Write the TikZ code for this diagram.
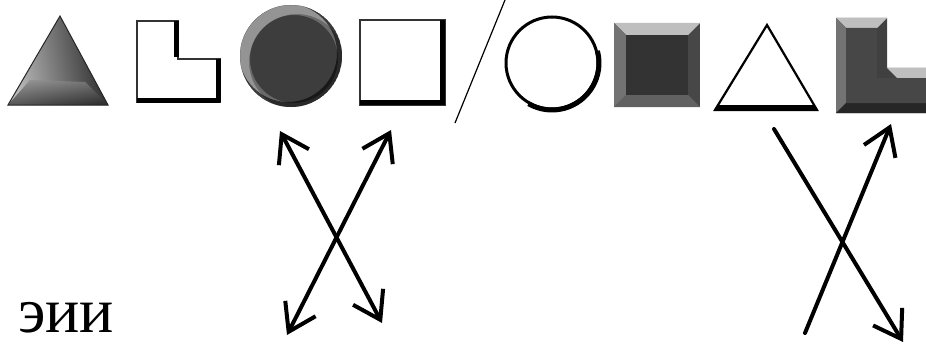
\documentclass[tikz,border=0pt]{standalone}
\usepackage{fontspec}
\setmainfont{Liberation Serif}
\usetikzlibrary{arrows.meta}
\tikzset{
  arr/.style={line width=4pt, line cap=round, line join=round},
  tipa/.style={-{Straight Barb[length=26pt,width=34pt,line width=4pt]}},
  tipb/.style={{Straight Barb[length=26pt,width=34pt,line width=4pt]}-{Straight Barb[length=26pt,width=34pt,line width=4pt]}},
  thinedge/.style={line width=1.2pt, black!80},
  thickedge/.style={line width=5pt, black, line cap=butt},
}
\begin{document}
\begin{tikzpicture}[x=1pt,y=-1pt]
\useasboundingbox (0,0) rectangle (926,345);
\fill[white] (0,0) rectangle (926,345);

% triangle 1 (shaded)
\shade[left color=gray!50, right color=black!85, shading angle=100]
  (60,16) -- (108,105) -- (8,105) -- cycle;
\shade[top color=black!45, bottom color=black!85, opacity=0.7]
  (8,105) -- (30,80) -- (85,82) -- (108,105) -- cycle;
\draw[line width=1pt, black!85] (60,16) -- (108,105) -- (8,105) -- cycle;

% L shape 1
\draw[thinedge, fill=white] (137,21) -- (178,21) -- (178,59) -- (220,59) -- (220,102) -- (137,102) -- cycle;
\draw[thickedge] (176,21) -- (176,57);
\draw[thickedge] (218,59) -- (218,102);
\draw[thickedge] (137,100) -- (220,100);

% sphere
\fill[black!76] (291,56) circle (51);
\begin{scope}
\clip (291,56) circle (51);
\fill[gray!60, opacity=0.55, even odd rule] (291,56) circle (51) (297,62) circle (48);
\fill[gray!50, opacity=0.35, even odd rule] (291,56) circle (51) (294,59) circle (44);
\fill[black, opacity=0.6, even odd rule] (291,56) circle (51) (288,53) circle (49);
\end{scope}

% square 1
\draw[thinedge, fill=white] (360,20) rectangle (445,105);
\draw[thickedge] (442,20) -- (442,105);
\draw[thickedge] (360,102) -- (445,102);

% slash
\draw[line width=1.2pt] (505,0) -- (455,123);

% circle outline
\draw[line width=3pt] (552,63) circle (46);
\draw[line width=5pt] (552,63) ++(-15:47) arc (-15:120:47);

% filled square 2
\fill[black!72] (614,23) rectangle (700,107);
\fill[gray!50] (614,23) -- (700,23) -- (688,35) -- (626,35) -- cycle;
\fill[black!55] (614,23) -- (626,35) -- (626,95) -- (614,107) -- cycle;
\fill[black!62] (614,107) -- (626,95) -- (688,95) -- (700,107) -- cycle;
\fill[black!80] (626,35) rectangle (688,95);

% triangle 2 outline
\draw[line width=2.2pt, line join=miter, fill=white] (767,25) -- (817,110) -- (715,110) -- cycle;
\draw[line width=5pt] (717,107) -- (815,107);

% L shape 2 (clipped at right edge)
\begin{scope}
\clip (0,0) rectangle (926,345);
\fill[black!75] (836,18) -- (887,18) -- (887,68) -- (940,68) -- (940,113) -- (836,113) -- cycle;
\fill[gray!50] (836,18) -- (887,18) -- (877,28) -- (846,28) -- cycle;
\fill[black!55] (836,18) -- (846,28) -- (846,103) -- (836,113) -- cycle;
\fill[gray!50] (887,68) -- (940,68) -- (940,78) -- (897,78) -- cycle;
\fill[black!85] (836,113) -- (846,103) -- (940,103) -- (940,113) -- cycle;
\fill[black!72] (846,28) -- (877,28) -- (877,78) -- (897,78) -- (940,78) -- (940,103) -- (846,103) -- cycle;
\end{scope}

% label
\node[anchor=base west, inner sep=0pt, font=\fontsize{64}{64}\selectfont] (lab) at (18,332) {эии};

% arrows (left cross)
\coordinate (a1) at (280,131);
\coordinate (a2) at (382,323);
\coordinate (b1) at (391,130);
\coordinate (b2) at (287,335);
\draw[arr, tipb] (a1) -- (a2);
\draw[arr, tipb] (b2) -- (b1);

% arrows (right cross)
\coordinate (c1) at (774,129);
\coordinate (c2) at (903,342);
\coordinate (d1) at (805,333);
\coordinate (d2) at (891,124);
\draw[arr, tipa] (c1) -- (c2);
\draw[arr, tipa] (d1) -- (d2);
\end{tikzpicture}
\end{document}
